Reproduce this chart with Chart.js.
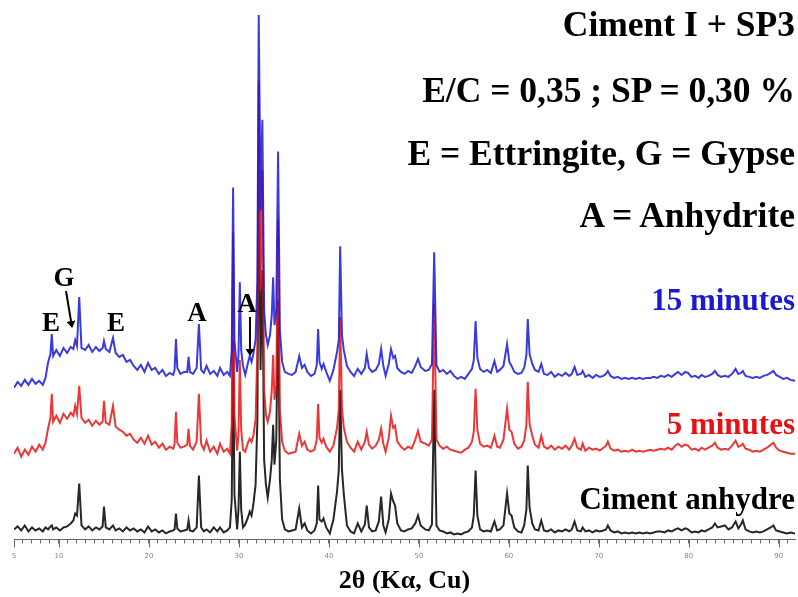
<!DOCTYPE html>
<html>
<head>
<meta charset="utf-8">
<script src="https://cdn.jsdelivr.net/npm/chart.js@4.4.0/dist/chart.umd.min.js"></script>
<style>
html, body { margin: 0; padding: 0; background: #fff; }
#wrap { position: relative; width: 798px; height: 597px; overflow: hidden; }
#wrap canvas, #wrap svg { position: absolute; left: 0; top: 0; }
.lbl { position: absolute; font-family: "Liberation Serif", "Times New Roman", serif; font-weight: bold; line-height: 1; white-space: nowrap; }
.r { right: 3px; }
.c { transform: translateX(-50%); font-size: 27px; }
</style>
</head>
<body>
<div id="wrap">
  <canvas id="chartCanvas" width="798" height="597"></canvas>
  <div class="lbl r" style="top:7px;font-size:35.5px">Ciment I + SP3</div>
  <div class="lbl r" style="top:73px;font-size:35.5px">E/C = 0,35 ; SP = 0,30 %</div>
  <div class="lbl r" style="top:136px;font-size:35.5px">E = Ettringite, G = Gypse</div>
  <div class="lbl r" style="top:198px;font-size:35.5px">A = Anhydrite</div>
  <div class="lbl r" style="top:284px;font-size:31px;color:#1a1ad2">15 minutes</div>
  <div class="lbl r" style="top:408px;font-size:31px;color:#e81010">5 minutes</div>
  <div class="lbl r" style="top:483px;font-size:31px">Ciment anhydre</div>
  <div class="lbl c" style="left:51px;top:309px">E</div>
  <div class="lbl c" style="left:64px;top:264px">G</div>
  <div class="lbl c" style="left:116px;top:309px">E</div>
  <div class="lbl c" style="left:197px;top:299px">A</div>
  <div class="lbl c" style="left:247px;top:290px">A</div>
  <svg width="798" height="597">
    <defs>
      <marker id="ah" markerUnits="userSpaceOnUse" markerWidth="7" markerHeight="9" refX="6" refY="4.5" orient="auto">
        <path d="M0,0 L7,4.5 L0,9 z" fill="#000"/>
      </marker>
    </defs>
    <line x1="66" y1="291" x2="72" y2="327" stroke="#000" stroke-width="2" marker-end="url(#ah)"/>
    <line x1="250" y1="317" x2="250" y2="355" stroke="#000" stroke-width="2" marker-end="url(#ah)"/>
  </svg>
</div>
<script>
// 2θ positions (deg) shared by the three patterns
const angles = [
  5.0, 5.4, 5.8, 6.2, 6.6, 7.0, 7.4, 7.8, 8.2, 8.5, 8.8, 9.05, 9.2, 9.35, 9.7, 10.1, 10.5, 10.9, 11.3, 11.6,
  11.8, 12.0, 12.25, 12.5, 12.9, 13.3, 13.7, 14.1, 14.5, 14.85, 15.0, 15.2, 15.6, 16.0, 16.3, 16.7, 17.1, 17.5, 17.9, 18.3,
  18.7, 19.1, 19.5, 19.9, 20.3, 20.7, 21.1, 21.5, 21.9, 22.3, 22.7, 22.85, 23.0, 23.15, 23.5, 23.9, 24.25, 24.4, 24.55, 24.9,
  25.3, 25.55, 25.8, 26.1, 26.4, 26.8, 27.2, 27.6, 27.9, 28.3, 28.7, 29.0, 29.2, 29.35, 29.5, 29.8, 29.95, 30.1, 30.25, 30.45,
  30.7, 31.0, 31.2, 31.4, 31.6, 31.85, 32.05, 32.2, 32.4, 32.6, 32.8, 33.0, 33.2, 33.45, 33.65, 33.8, 33.95, 34.15, 34.35, 34.55,
  34.8, 35.1, 35.5, 35.9, 36.3, 36.7, 37.0, 37.3, 37.6, 38.0, 38.4, 38.65, 38.8, 38.95, 39.2, 39.4, 39.7, 40.1, 40.5, 40.9,
  41.1, 41.25, 41.45, 41.65, 42.0, 42.4, 42.8, 43.2, 43.6, 44.0, 44.2, 44.45, 44.8, 45.2, 45.55, 45.8, 46.05, 46.3, 46.65, 46.9,
  47.15, 47.35, 47.6, 48.0, 48.4, 48.8, 49.2, 49.6, 49.9, 50.2, 50.7, 51.1, 51.45, 51.7, 51.95, 52.3, 52.7, 53.1, 53.5, 53.9,
  54.3, 54.7, 55.1, 55.5, 55.9, 56.1, 56.3, 56.5, 56.8, 57.2, 57.6, 58.0, 58.4, 58.7, 59.0, 59.4, 59.8, 60.05, 60.3, 60.6,
  61.0, 61.4, 61.7, 61.95, 62.1, 62.3, 62.6, 62.9, 63.3, 63.6, 63.9, 64.3, 64.7, 65.1, 65.5, 65.9, 66.3, 66.7, 67.0, 67.3,
  67.6, 68.0, 68.2, 68.5, 68.9, 69.3, 69.7, 70.1, 70.5, 70.8, 71.0, 71.3, 71.7, 72.1, 72.5, 72.9, 73.3, 73.7, 74.1, 74.5,
  74.9, 75.3, 75.7, 76.1, 76.5, 76.9, 77.3, 77.7, 78.1, 78.5, 78.8, 79.2, 79.6, 79.9, 80.3, 80.7, 81.1, 81.4, 81.8, 82.2,
  82.6, 82.9, 83.2, 83.6, 84.0, 84.4, 84.8, 85.2, 85.5, 85.8, 86.0, 86.3, 86.7, 87.1, 87.5, 87.9, 88.3, 88.7, 89.1, 89.4,
  89.7, 90.1, 90.5, 90.9, 91.3, 91.8
];

// 15 minutes (stacked)
const int15 = [
  152, 158, 154, 160, 155, 161, 156, 159, 155, 162, 178, 186, 206, 184, 190, 184, 192, 187, 193, 191,
  200, 194, 243, 192, 190, 195, 188, 193, 189, 192, 199, 191, 188, 202, 187, 183, 185, 178, 180, 174,
  170, 175, 168, 177, 170, 172, 166, 170, 164, 167, 165, 170, 201, 172, 166, 168, 168, 183, 168, 166,
  172, 216, 170, 167, 174, 166, 169, 164, 172, 165, 168, 164, 190, 353, 200, 168, 185, 258, 190, 174,
  165, 177, 184, 178, 186, 200, 260, 526, 330, 421, 230, 205, 195, 205, 225, 263, 215, 230, 389, 210,
  178, 168, 166, 165, 168, 184, 172, 175, 168, 164, 166, 175, 211, 178, 171, 176, 168, 159, 170, 188,
  200, 294, 205, 190, 174, 168, 164, 171, 166, 172, 186, 172, 168, 170, 176, 191, 174, 164, 176, 191,
  182, 184, 172, 168, 166, 169, 167, 174, 181, 173, 169, 170, 176, 288, 175, 168, 170, 166, 169, 164,
  161, 163, 161, 166, 171, 180, 219, 182, 171, 168, 170, 167, 179, 168, 170, 174, 196, 178, 174, 168,
  166, 167, 172, 185, 221, 186, 176, 170, 168, 176, 166, 165, 168, 163, 166, 164, 167, 164, 166, 173,
  165, 166, 169, 163, 165, 162, 165, 163, 164, 166, 169, 164, 162, 163, 161, 162, 161, 162, 161, 162,
  161, 162, 162, 163, 162, 164, 163, 165, 163, 166, 168, 165, 168, 167, 163, 164, 162, 165, 163, 164,
  166, 169, 165, 163, 164, 163, 166, 171, 166, 167, 169, 164, 163, 162, 163, 162, 164, 165, 167, 169,
  165, 163, 161, 162, 160, 159
];

// 5 minutes
const int5 = [
  86, 92, 83, 90, 85, 93, 88, 95, 90, 97, 112, 122, 146, 118, 124, 117, 126, 121, 127, 124,
  134, 126, 154, 122, 117, 120, 114, 119, 115, 118, 139, 117, 115, 134, 113, 110, 108, 104, 106, 100,
  97, 102, 96, 104, 95, 98, 92, 96, 90, 93, 91, 96, 128, 97, 92, 93, 95, 111, 94, 90,
  98, 146, 96, 90, 99, 88, 93, 86, 96, 88, 91, 86, 115, 308, 125, 89, 105, 180, 110, 90,
  88, 97, 101, 98, 104, 120, 190, 460, 250, 371, 150, 125, 118, 128, 150, 185, 140, 155, 321, 130,
  98, 89, 86, 87, 88, 106, 94, 98, 90, 88, 90, 100, 136, 102, 97, 101, 93, 88, 94, 112,
  130, 223, 132, 112, 98, 92, 88, 98, 90, 98, 108, 95, 91, 94, 100, 111, 96, 88, 102, 124,
  112, 114, 98, 93, 90, 93, 91, 100, 109, 98, 96, 94, 100, 236, 100, 94, 91, 93, 90, 89,
  88, 87, 90, 92, 98, 108, 151, 110, 96, 93, 94, 92, 104, 93, 92, 100, 131, 110, 108, 96,
  91, 93, 99, 115, 158, 116, 104, 95, 92, 104, 93, 91, 94, 90, 93, 91, 94, 90, 94, 101,
  92, 90, 96, 89, 92, 90, 91, 89, 92, 94, 98, 91, 89, 90, 88, 89, 88, 90, 88, 89,
  88, 89, 90, 89, 90, 91, 90, 92, 90, 94, 96, 93, 95, 94, 90, 91, 89, 92, 90, 92,
  94, 97, 92, 90, 91, 90, 94, 99, 93, 94, 96, 91, 90, 88, 89, 88, 90, 92, 95, 97,
  92, 89, 88, 87, 86, 86
];

// Ciment anhydre
const intAnhydre = [
  10, 13, 9, 14, 8, 12, 9, 11, 8, 12, 10, 13, 14, 10, 12, 9, 12, 13, 16, 19,
  26, 24, 56, 14, 10, 13, 9, 12, 10, 13, 33, 12, 10, 14, 9, 11, 8, 12, 9, 11,
  8, 10, 7, 13, 8, 10, 7, 9, 6, 8, 9, 10, 26, 11, 8, 9, 10, 19, 9, 8,
  12, 64, 12, 8, 10, 7, 12, 8, 12, 7, 9, 12, 40, 200, 45, 10, 30, 88, 30, 12,
  15, 22, 28, 24, 35, 55, 120, 370, 170, 270, 80, 55, 42, 60, 80, 115, 75, 100, 240, 60,
  20, 10, 8, 9, 10, 31, 12, 16, 9, 6, 9, 16, 54, 20, 18, 21, 12, 6, 20, 48,
  70, 150, 70, 46, 14, 8, 6, 16, 8, 15, 34, 12, 8, 9, 18, 43, 14, 7, 20, 46,
  38, 34, 16, 9, 8, 10, 11, 16, 24, 14, 10, 9, 15, 150, 14, 9, 8, 6, 7, 5,
  6, 5, 7, 8, 12, 24, 69, 24, 10, 8, 9, 8, 18, 9, 10, 14, 46, 26, 24, 12,
  8, 7, 14, 30, 74, 32, 16, 10, 9, 19, 9, 8, 10, 7, 9, 8, 10, 8, 10, 18,
  9, 8, 12, 8, 9, 7, 9, 8, 9, 10, 14, 9, 7, 8, 6, 7, 6, 7, 6, 7,
  6, 7, 6, 7, 8, 8, 7, 9, 8, 10, 11, 9, 11, 10, 7, 8, 7, 9, 8, 10,
  12, 16, 12, 13, 14, 10, 12, 18, 11, 15, 19, 10, 8, 7, 8, 7, 8, 10, 12, 14,
  9, 8, 7, 6, 7, 6
];

const labeledTicks = [5, 10, 20, 30, 40, 50, 60, 70, 80, 90];

function makeSeries(label, values, color) {
  return {
    label: label,
    data: angles.map((a, i) => ({ x: a, y: values[i] })),
    borderColor: color,
    borderWidth: 2,
    pointRadius: 0,
    tension: 0,
    fill: false
  };
}

// longer marks under the labelled ticks
const majorTicks = {
  id: 'majorTicks',
  afterDraw(chart) {
    const ctx = chart.ctx;
    const x = chart.scales.x;
    ctx.save();
    ctx.strokeStyle = '#666';
    ctx.lineWidth = 1;
    labeledTicks.forEach(v => {
      const px = Math.round(x.getPixelForValue(v)) + 0.5;
      ctx.beginPath();
      ctx.moveTo(px, x.top);
      ctx.lineTo(px, x.top + 8);
      ctx.stroke();
    });
    ctx.restore();
  }
};

const ctx = document.getElementById('chartCanvas').getContext('2d');
new Chart(ctx, {
  type: 'line',
  data: {
    datasets: [
      makeSeries('15 minutes', int15, 'rgba(25,25,215,0.85)'),
      makeSeries('5 minutes', int5, 'rgba(232,20,20,0.85)'),
      makeSeries('Ciment anhydre', intAnhydre, 'rgba(15,15,15,0.9)')
    ]
  },
  options: {
    responsive: false,
    animation: false,
    layout: { padding: { left: 14, right: 3, top: 10, bottom: 0 } },
    plugins: { legend: { display: false }, tooltip: { enabled: false } },
    scales: {
      x: {
        type: 'linear',
        position: 'bottom',
        min: 5,
        max: 91.8,
        afterBuildTicks: axis => {
          const t = [];
          for (let v = 5; v <= 91; v++) t.push({ value: v });
          axis.ticks = t;
        },
        border: { color: '#666', width: 1 },
        grid: { drawOnChartArea: false, drawTicks: true, tickLength: 4, color: '#666' },
        ticks: {
          autoSkip: false,
          maxRotation: 0,
          padding: 9,
          color: '#888',
          font: { size: 7, family: 'DejaVu Sans' },
          callback: v => labeledTicks.includes(v) ? String(v) : ''
        },
        title: {
          display: true,
          text: '2θ (Kα, Cu)',
          color: '#000',
          font: { family: 'Liberation Serif', weight: 'bold', size: 26 },
          padding: { top: -4, bottom: 0 }
        }
      },
      y: { display: false, min: 0, max: 531 }
    }
  },
  plugins: [majorTicks]
});
</script>
</body>
</html>
